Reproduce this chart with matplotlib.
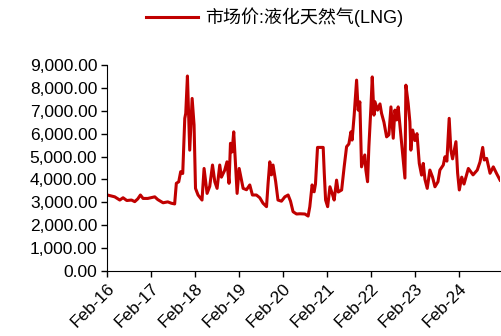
import pandas as pd
import matplotlib
matplotlib.use('Agg')
import matplotlib.pyplot as plt
import matplotlib.dates as mdates
from matplotlib.ticker import FuncFormatter

plt.rcParams['font.family'] = ['Liberation Sans', 'Noto Sans CJK SC', 'DejaVu Sans']
plt.rcParams['font.size'] = 12.5

series_name = '市场价:液化天然气(LNG)'

dates = [
    '2016-02-04', '2016-04-05', '2016-05-17', '2016-06-13', '2016-07-14', '2016-08-22',
    '2016-09-18', '2016-10-13', '2016-11-04', '2016-11-26', '2017-01-04', '2017-03-03',
    '2017-03-28', '2017-05-11', '2017-06-19', '2017-07-19', '2017-08-15', '2017-08-29',
    '2017-09-18', '2017-10-04', '2017-10-21', '2017-11-07', '2017-11-15', '2017-11-29',
    '2017-12-18', '2018-01-07', '2018-01-23', '2018-02-04', '2018-02-25', '2018-03-30',
    '2018-04-16', '2018-05-11', '2018-06-02', '2018-06-25', '2018-07-14', '2018-08-02',
    '2018-08-24', '2018-09-07', '2018-10-04', '2018-10-23', '2018-11-09', '2018-11-21',
    '2018-12-04', '2018-12-18', '2019-01-01', '2019-01-15', '2019-02-01', '2019-02-21',
    '2019-03-06', '2019-04-03', '2019-04-30', '2019-05-22', '2019-06-24', '2019-07-22',
    '2019-08-18', '2019-09-16', '2019-09-29', '2019-10-13', '2019-10-27', '2019-11-09',
    '2019-12-01', '2019-12-20', '2020-01-18', '2020-02-15', '2020-03-13', '2020-04-02',
    '2020-04-23', '2020-05-22', '2020-06-19', '2020-07-30', '2020-08-26', '2020-09-09',
    '2020-09-28', '2020-10-15', '2020-10-26', '2020-11-12', '2020-12-29', '2021-01-07',
    '2021-01-18', '2021-02-04', '2021-02-23', '2021-03-14', '2021-03-30', '2021-04-19',
    '2021-05-03', '2021-05-31', '2021-06-21', '2021-07-11', '2021-07-30', '2021-08-16',
    '2021-08-26', '2021-09-12', '2021-10-02', '2021-10-15', '2021-10-29', '2021-11-12',
    '2021-11-25', '2021-12-09', '2021-12-18', '2022-01-01', '2022-01-12', '2022-01-29',
    '2022-02-09', '2022-02-23', '2022-03-03', '2022-03-25', '2022-04-14', '2022-04-27',
    '2022-05-17', '2022-06-08', '2022-06-27', '2022-07-14', '2022-08-02', '2022-08-16',
    '2022-08-30', '2022-09-12', '2022-09-26', '2022-11-07', '2022-11-15', '2022-12-04',
    '2022-12-18', '2022-12-26', '2023-01-10', '2023-01-29', '2023-02-15', '2023-03-06',
    '2023-03-25', '2023-04-08', '2023-04-22', '2023-05-11', '2023-06-02', '2023-06-24',
    '2023-07-14', '2023-08-08', '2023-08-24', '2023-09-21', '2023-10-05', '2023-10-21',
    '2023-11-09', '2023-11-23', '2023-12-07', '2024-01-04', '2024-01-18', '2024-02-01',
    '2024-02-21', '2024-03-11', '2024-04-16', '2024-05-25', '2024-06-29', '2024-07-22',
    '2024-08-13', '2024-08-26', '2024-09-15', '2024-10-13', '2024-11-09', '2024-12-07',
    '2025-01-04',
]

prices = [
    3320, 3240, 3100, 3200, 3080, 3100,
    3030, 3150, 3320, 3170, 3170, 3240,
    3120, 2980, 3020, 2960, 2930, 3830,
    3900, 4340, 4260, 6670, 6890, 8520,
    5280, 7540, 6380, 3610, 3320, 3100,
    4480, 3390, 3700, 4630, 3900, 3610,
    4630, 4100, 4400, 4770, 3830, 5580,
    5200, 6080, 4700, 3390, 4480, 3950,
    3610, 3550, 3760, 3320, 3320, 3200,
    2960, 2810, 3830, 4770, 4200, 4630,
    3900, 3100, 3050, 3240, 3320, 3050,
    2590, 2490, 2500, 2490, 2400, 2810,
    3760, 3460, 3800, 5400, 5400, 4270,
    3100, 2810, 3680, 3380, 3100, 3970,
    3450, 3540, 4550, 5430, 5550, 6080,
    5720, 6810, 8340, 7030, 7390, 4550,
    4800, 5070, 4410, 3900, 5430, 7170,
    8480, 6810, 7400, 7030, 7300, 6890,
    6500, 5860, 5950, 7170, 5800, 7030,
    6600, 7170, 6380, 4060, 8120, 7320,
    6520, 5280, 6160, 5700, 6000, 4700,
    4190, 4700, 4000, 3610, 4410, 4100,
    3680, 3900, 4410, 4630, 4990, 4800,
    6670, 5280, 4900, 5650, 4280, 3540,
    4100, 3800, 4480, 4200, 4410, 4770,
    5400, 4850, 4920, 4270, 4550, 4250,
    3970,
]

tick_dates = pd.date_range('2016-02-01', '2024-02-01', freq='12MS')

df = pd.DataFrame({'date': pd.to_datetime(dates), 'price': prices})

fig = plt.figure(figsize=(5.01, 3.36), dpi=100)
ax = fig.add_axes([0.2136, 0.1935, 0.785, 0.613])

ax.plot(df['date'], df['price'], color='#C00000', linewidth=2.2, label=series_name)

ax.set_ylim(0, 9000)
ax.set_yticks(range(0, 9001, 1000))
ax.yaxis.set_major_formatter(FuncFormatter(lambda v, p: f'{v:,.2f}'))

ax.set_xlim(pd.Timestamp('2016-02-01'), pd.Timestamp('2025-01-06'))
ax.set_xticks(tick_dates)
ax.xaxis.set_major_formatter(mdates.DateFormatter('%b-%y'))
for lbl in ax.get_xticklabels():
    lbl.set_rotation(45)
    lbl.set_ha('right')
    lbl.set_rotation_mode('anchor')

ax.spines['top'].set_visible(False)
ax.spines['right'].set_visible(False)
ax.tick_params(direction='out', length=4, width=1, colors='black', pad=3)

fig.legend(loc='upper center', bbox_to_anchor=(0.548, 1.025), frameon=False,
           handlelength=2.9, handletextpad=0.4, fontsize=13)

fig.savefig('out.png', dpi=100)
